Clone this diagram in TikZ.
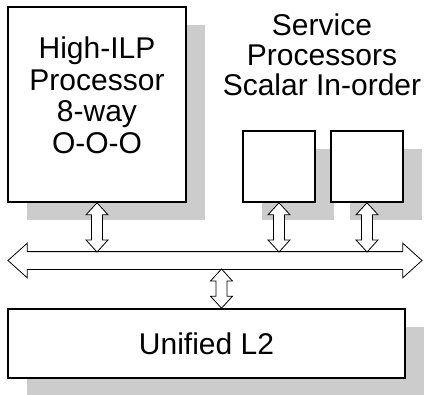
\documentclass[tikz,border=0pt]{standalone}
\usepackage{fontspec}
\setmainfont{Liberation Sans}
\usetikzlibrary{shapes.arrows,shadows,calc}

\tikzset{
	unit/.style={draw, line width=1.6pt, fill=white, inner sep=0pt,
		drop shadow={shadow xshift=19pt, shadow yshift=-18pt, fill=gray!40, opacity=1}},
	link/.style={draw, line width=0.8pt, fill=white},
	boxtext/.style={font=\fontsize{30}{30}\selectfont, align=center}
}

% hollow two-headed arrow between a top and a bottom point
\newcommand{\hollowlink}[2]{%
	\draw[link] let \p1=#1, \p2=#2 in
		(\x1,\y1) -- (\x1+11pt,\y1-12pt) -- (\x1+5.5pt,\y1-12pt) -- (\x1+5.5pt,\y2+12pt)
		-- (\x1+11pt,\y2+12pt) -- (\x1,\y2) -- (\x1-11pt,\y2+12pt) -- (\x1-5.5pt,\y2+12pt)
		-- (\x1-5.5pt,\y1-12pt) -- (\x1-11pt,\y1-12pt) -- cycle;
}

\begin{document}
\begin{tikzpicture}[x=1pt, y=1pt]
		\useasboundingbox (0,0) rectangle (428,394);
		\node[unit, minimum width=178pt, minimum height=195pt] (cpu) at (97,289.5) {};
		\node[boxtext, font=\fontsize{30}{31.5}\selectfont] (cputext) at ($(cpu.center)+(0,9.25)$) {High-ILP\\Processor\\8-way\\O-O-O};
		\node[unit, minimum width=72pt, minimum height=71pt] (sp1) at (279,227.5) {};
		\node[unit, minimum width=72pt, minimum height=71pt] (sp2) at (367,227.5) {};
		\node[boxtext] (sptext) at (322,339.5) {Service\\Processors\\Scalar In-order};
		\node[unit, boxtext, minimum width=397pt, minimum height=69pt] (l2) at (206.5,50.5) {Unified L2};
		\node[double arrow, draw, line width=0.8pt, fill=white, inner sep=8.5pt,
			minimum height=414pt, double arrow head extend=8.5pt,
			double arrow tip angle=84] (bus) at (215,133.5) {};
		\coordinate (l2in) at ($(l2.north)+(15,0)$);
		\hollowlink{(cpu.south)}{($(cpu.south |- bus.center)+(0,8.5)$)}
		\hollowlink{(sp1.south)}{($(sp1.south |- bus.center)+(0,8.5)$)}
		\hollowlink{(sp2.south)}{($(sp2.south |- bus.center)+(0,8.5)$)}
		\hollowlink{($(l2in |- bus.center)+(0,-8.5)$)}{(l2in)}
\end{tikzpicture}
\end{document}
